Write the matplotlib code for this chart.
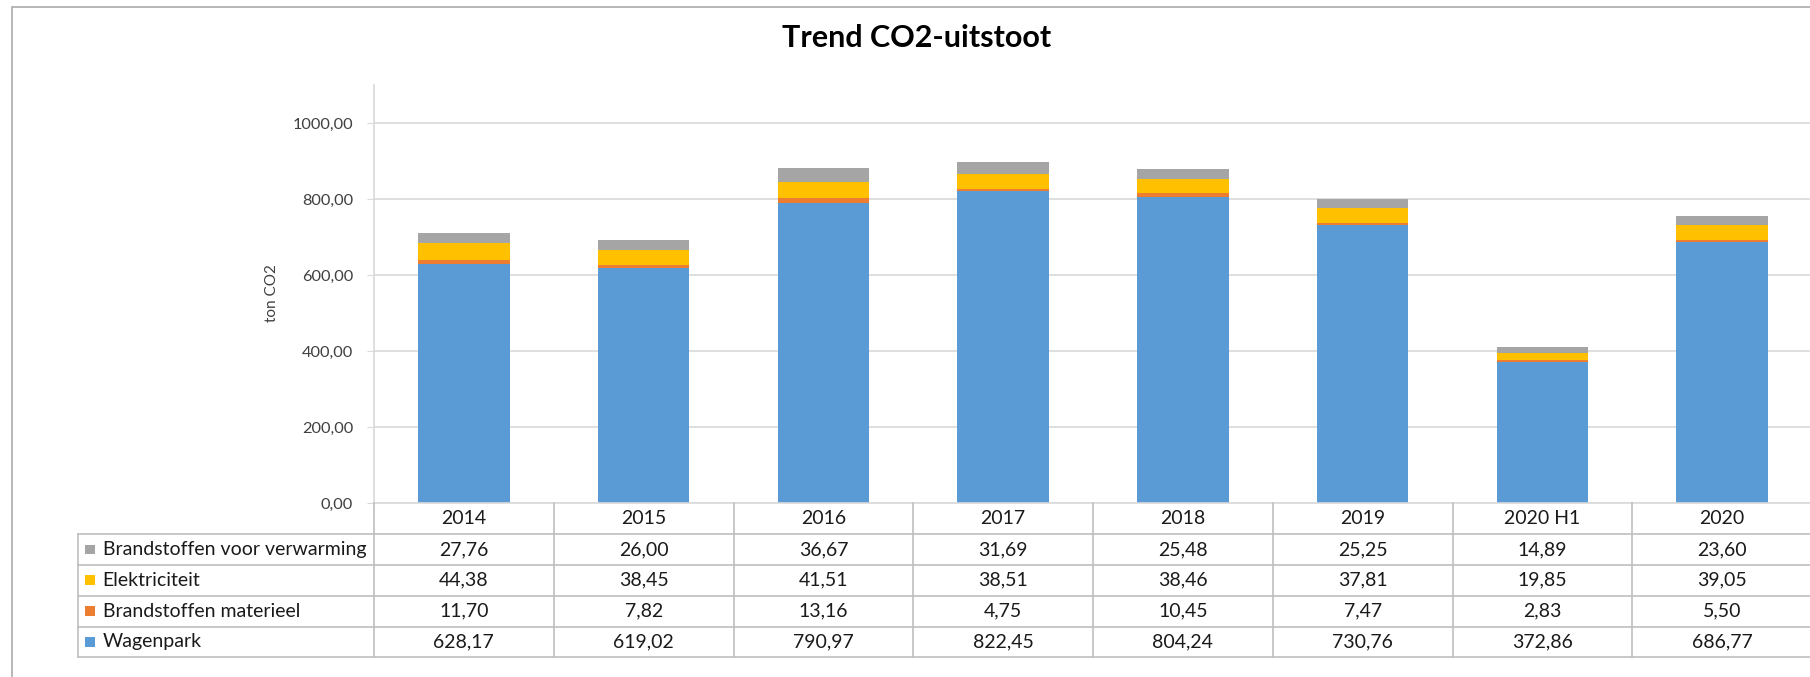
import numpy as np
import matplotlib.pyplot as plt
from matplotlib.transforms import blended_transform_factory
from matplotlib.patches import Rectangle

plt.rcParams['font.family'] = ['Lato', 'DejaVu Sans']

# data
jaren = ["2014", "2015", "2016", "2017", "2018", "2019", "2020 H1", "2020"]
wagenpark = [628.17, 619.02, 790.97, 822.45, 804.24, 730.76, 372.86, 686.77]
materieel = [11.70, 7.82, 13.16, 4.75, 10.45, 7.47, 2.83, 5.50]
elektriciteit = [44.38, 38.45, 41.51, 38.51, 38.46, 37.81, 19.85, 39.05]
verwarming = [27.76, 26.00, 36.67, 31.69, 25.48, 25.25, 14.89, 23.60]

namen = ["Wagenpark", "Brandstoffen materieel", "Elektriciteit", "Brandstoffen voor verwarming"]
kleuren = ["#5B9BD5", "#ED7D31", "#FFC000", "#A5A5A5"]
reeksen = [wagenpark, materieel, elektriciteit, verwarming]

W, H = 1810, 677
fig = plt.figure(figsize=(W / 100, H / 100), dpi=100)

def fx(px):
    return px / W

def fy(py):
    return 1 - py / H

# rand rond de grafiek (rechts/onder afgesneden)
fig.patches.append(Rectangle((fx(12), fy(1000)), 1.2, fy(7) - fy(1000), transform=fig.transFigure,
                             fill=False, edgecolor="#ABABAB", linewidth=1.2))

ax_l, ax_r = 374, 1812
ax_t, ax_b = 85, 503.3
ax = fig.add_axes([fx(ax_l), fy(ax_b), fx(ax_r - ax_l), fy(ax_t) - fy(ax_b)])

x = np.arange(len(jaren))
onder = np.zeros(len(jaren))
for naam, vals, kl in zip(namen, reeksen, kleuren):
    ax.bar(x, vals, 0.51, bottom=onder, color=kl, label=naam, zorder=3)
    onder += np.array(vals)

ax.set_xlim(-0.5, len(jaren) - 0.5)
ax.set_ylim(0, 1100)
ax.set_yticks(np.arange(0, 1001, 200))
ax.set_yticklabels([f"{v:.2f}".replace(".", ",") for v in np.arange(0, 1001, 200)],
                   fontsize=11.8, color="#404040")
ax.tick_params(axis="y", length=5, color="#D9D9D9", pad=10)
ax.set_xticks([])
ax.grid(axis="y", color="#D9D9D9", linewidth=1.2, zorder=0)
for s in ["top", "right", "bottom"]:
    ax.spines[s].set_visible(False)
ax.spines["left"].set_color("#D9D9D9")
ax.spines["left"].set_linewidth(1.2)

fig.text(fx(272), fy(293), "ton CO2", rotation=90, ha="center", va="center",
         fontsize=11, color="#404040")
fig.text(fx(917), fy(38), "Trend CO2-uitstoot", ha="center", va="center",
         fontsize=22, fontweight="bold", color="#000000")

# datatabel onder de grafiek
tab_b = 657.3
axt = fig.add_axes([fx(ax_l), fy(tab_b), fx(ax_r - ax_l), fy(ax_b) - fy(tab_b)])
axt.set_xlim(-0.5, len(jaren) - 0.5)
axt.set_ylim(5, 0)
axt.axis("off")

lijn = dict(color="#BFBFBF", linewidth=1.2, clip_on=False)
mix = blended_transform_factory(fig.transFigure, axt.transData)

axt.plot([-0.5, len(jaren) - 0.5], [0, 0], color="#D9D9D9", linewidth=1.2, clip_on=False)
for r in range(1, 6):
    axt.plot([fx(77.5), 1.0], [r, r], transform=mix, **lijn)
axt.plot([fx(77.5), fx(77.5)], [1, 5], transform=mix, **lijn)
for k in range(len(jaren)):
    axt.plot([k - 0.5, k - 0.5], [0, 5], **lijn)

for i, jr in enumerate(jaren):
    axt.text(i, 0.5, jr, ha="center", va="center", fontsize=14, color="#1A1A1A")

rijen = list(zip(namen, reeksen, kleuren))[::-1]
for r, (naam, vals, kl) in enumerate(rijen, start=1):
    axt.add_patch(Rectangle((fx(85), r + 0.5 - 0.16), fx(10), 0.32, transform=mix,
                            facecolor=kl, edgecolor="none", clip_on=False))
    axt.text(fx(102.5), r + 0.5, naam, transform=mix, ha="left", va="center",
             fontsize=14, color="#1A1A1A")
    for i, v in enumerate(vals):
        axt.text(i, r + 0.5, f"{v:.2f}".replace(".", ","), ha="center", va="center",
                 fontsize=14, color="#1A1A1A")

fig.savefig("out.png", dpi=100)
